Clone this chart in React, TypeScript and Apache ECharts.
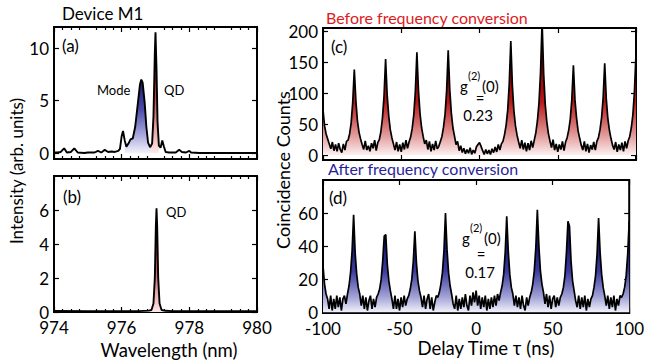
import React, { useEffect, useRef } from "react";
import * as echarts from "echarts";

// ---------- Data ----------
// Panel (a): spectrum, device M1 (wavelength nm, intensity arb. units)
const wavelengthA = [
  974.0, 974.1, 974.2, 974.3, 974.38, 974.5, 974.6, 974.7, 974.9, 975.0,
  975.2, 975.3, 975.4, 975.5, 975.6, 975.7, 975.8, 975.9, 975.95, 976.0,
  976.04, 976.09, 976.14, 976.2, 976.26, 976.33, 976.4, 976.47, 976.54, 976.58,
  976.62, 976.68, 976.73, 976.78, 976.84, 976.9, 976.94, 976.98, 977.0, 977.03,
  977.06, 977.1, 977.15, 977.2, 977.25, 977.3, 977.4, 977.6, 977.7, 977.78,
  977.9, 978.0, 978.05, 978.3, 978.6, 979.0, 979.5, 980.0,
];
const intensityA = [
  0.05, 0.05, 0.1, 0.45, 0.05, 0.1, 0.45, 0.05, 0.0, 0.05,
  0.05, 0.2, 0.05, 0.3, 0.1, 0.15, 0.1, 0.2, 0.4, 1.6,
  2.1, 1.2, 0.6, 0.9, 1.3, 1.4, 2.5, 4.5, 6.5, 7.0,
  6.7, 4.8, 2.5, 1.0, 0.55, 0.9, 3.5, 9.5, 11.5, 8.0,
  3.0, 0.7, 0.5, 1.2, 0.6, 0.1, 0.05, 0.05, 0.3, 0.1,
  0.05, 0.2, 0.05, 0.0, 0.0, 0.0, 0.0, 0.0,
];
// Panel (b)
const wavelengthB = [
  974.0, 975.0, 976.0, 976.5, 976.8, 976.88, 976.94, 976.98, 977.01, 977.03,
  977.05, 977.08, 977.12, 977.18, 977.3, 977.5, 978.0, 979.0, 980.0,
];
const intensityB = [
  0.06, 0.05, 0.05, 0.05, 0.08, 0.12, 0.5, 2.0, 5.0, 6.1,
  5.0, 2.0, 0.5, 0.12, 0.07, 0.05, 0.05, 0.04, 0.04,
];
// Panels (c), (d): coincidence histogram, 1 ns bins from -100 ns to 100 ns
const delayStart = -100;
const delayStep = 1;
const countsBefore = [
  73, 47, 34, 26, 18, 10, 21, 7, 17, 6,
  19, 9, 4, 18, 8, 22, 24, 34, 52, 85,
  138, 88, 55, 37, 26, 17, 9, 23, 8, 15,
  6, 19, 11, 24, 7, 20, 25, 38, 60, 95,
  155, 97, 63, 41, 28, 18, 8, 21, 6, 17,
  5, 20, 9, 24, 11, 21, 29, 43, 65, 102,
  166, 104, 67, 44, 30, 18, 24, 9, 22, 6,
  18, 8, 23, 10, 14, 22, 30, 45, 66, 104,
  169, 106, 68, 44, 31, 17, 22, 7, 15, 4,
  11, 2, 9, 3, 12, 1, 8, 3, 13, 17,
  20, 14, 7, 1, 9, 2, 8, 1, 10, 4,
  13, 5, 17, 8, 18, 22, 33, 48, 72, 114,
  184, 112, 71, 47, 32, 21, 11, 24, 9, 20,
  6, 19, 8, 23, 12, 24, 36, 55, 84, 133,
  215, 131, 82, 54, 35, 23, 12, 25, 8, 18,
  5, 17, 9, 22, 7, 21, 28, 40, 58, 90,
  145, 89, 60, 39, 27, 16, 8, 22, 6, 18,
  4, 16, 9, 21, 8, 22, 28, 41, 60, 92,
  148, 91, 59, 40, 27, 16, 9, 21, 5, 17,
  8, 20, 6, 22, 11, 23, 30, 44, 65, 102,
  163,
];
const countsAfter = [
  28, 17, 11, 8, 2, 10, 1, 8, 2, 10,
  3, 9, 1, 8, 10, 5, 11, 16, 24, 37,
  59, 36, 23, 15, 11, 4, 10, 2, 9, 1,
  7, 10, 2, 8, 3, 9, 11, 14, 20, 31,
  46, 47, 29, 19, 13, 8, 2, 10, 2, 8,
  1, 9, 3, 10, 4, 8, 10, 14, 20, 31,
  49, 30, 19, 13, 9, 3, 10, 2, 8, 11,
  2, 9, 1, 6, 10, 9, 12, 17, 24, 37,
  60, 38, 24, 16, 11, 5, 2, 10, 1, 8,
  2, 9, 3, 11, 4, 1, 10, 4, 12, 6,
  13, 4, 10, 2, 9, 3, 10, 1, 8, 2,
  9, 3, 10, 4, 11, 7, 12, 16, 23, 36,
  58, 37, 23, 15, 11, 4, 10, 3, 9, 2,
  10, 4, 1, 9, 4, 9, 12, 17, 25, 39,
  62, 40, 25, 17, 12, 5, 11, 3, 10, 2,
  8, 10, 3, 9, 4, 9, 11, 15, 22, 36,
  55, 52, 31, 19, 13, 7, 3, 10, 2, 9,
  3, 10, 1, 8, 3, 8, 10, 15, 22, 35,
  57, 36, 23, 15, 10, 4, 10, 2, 9, 3,
  10, 1, 8, 4, 10, 9, 11, 15, 22, 35,
  55,
];
const modeRange = [976.09, 976.86];
const qdRangeA = [976.84, 977.12];

// Tick values
const wavelengthTicks = [974, 976, 978, 980];
const ticksA = [0, 5, 10];
const ticksB = [0, 2, 4, 6];
const ticksC = [0, 50, 100, 150, 200];
const ticksD = [0, 20, 40, 60];
const delayTicks = [-100, -50, 0, 50, 100];

const g2Before = "0.23";
const g2After = "0.17";

// ---------- Helpers ----------
const FONT = "Lato";

function pairs(xs: number[], ys: number[]) {
  return xs.map((x, i) => [x, ys[i]]);
}
function histPairs(ys: number[]) {
  return ys.map((y, i) => [delayStart + i * delayStep, y]);
}

function grad(stops: [number, string][]) {
  return new echarts.graphic.LinearGradient(
    0, 0, 0, 1,
    stops.map(([offset, color]) => ({ offset, color }))
  );
}
const redGrad = () =>
  grad([[0, "#3c0000"], [0.35, "#8a0000"], [0.6, "#b81818"], [0.85, "#e29a9a"], [1, "#fcf0f0"]]);
const blueGrad = () =>
  grad([[0, "#06063e"], [0.35, "#1a1a74"], [0.6, "#3c3c9e"], [0.85, "#a2a2d6"], [1, "#f1f1fb"]]);

const tickStyle = { color: "#000", width: 1.2 };

function xPair(gridIndex: number, min: number, max: number, ticks: number[], showLabels: boolean, minor: boolean) {
  const base = {
    type: "value",
    gridIndex,
    min,
    max,
    axisLine: { show: false, onZero: false },
    splitLine: { show: false },
    axisTick: { inside: true, length: 5, lineStyle: tickStyle, customValues: ticks },
    minorTick: { show: minor, splitNumber: 4, length: 3, lineStyle: tickStyle },
  };
  return [
    {
      ...base,
      position: "bottom",
      axisLabel: {
        show: showLabels,
        customValues: ticks,
        color: "#000",
        fontSize: 17,
        fontFamily: FONT,
        margin: 7,
      },
    },
    { ...base, position: "top", axisLabel: { show: false } },
  ];
}

function yPair(gridIndex: number, min: number, max: number, ticks: number[]) {
  const base = {
    type: "value",
    gridIndex,
    min,
    max,
    axisLine: { show: false, onZero: false },
    splitLine: { show: false },
    axisTick: { inside: true, length: 5, lineStyle: tickStyle, customValues: ticks },
  };
  return [
    {
      ...base,
      position: "left",
      axisLabel: {
        customValues: ticks,
        color: "#000",
        fontSize: 17,
        fontFamily: FONT,
        margin: 5,
      },
    },
    { ...base, position: "right", axisLabel: { show: false } },
  ];
}

function txt(text: string, x: number, y: number, size: number, opts: any = {}) {
  return {
    type: "text",
    x,
    y,
    rotation: opts.rotation || 0,
    z: 100,
    style: {
      text,
      fontSize: size,
      fontFamily: FONT,
      fill: opts.color || "#000",
      align: opts.align || "left",
      verticalAlign: "middle",
    },
  };
}

export default function App() {
  const ref = useRef<HTMLDivElement>(null);

  useEffect(() => {
    if (!ref.current) return;
    const chart = echarts.init(ref.current, null, { renderer: "svg" });

    const specA = pairs(wavelengthA, intensityA);
    const specB = pairs(wavelengthB, intensityB);
    const modeFill = specA.filter((p) => p[0] >= modeRange[0] && p[0] <= modeRange[1]);
    const qdFillA = specA.filter((p) => p[0] >= qdRangeA[0] && p[0] <= qdRangeA[1]);

    const gridBase = { show: true, borderColor: "#000", borderWidth: 2, backgroundColor: "transparent" };

    const lineBase = {
      type: "line",
      symbol: "none",
      showSymbol: false,
      lineStyle: { color: "#000", width: 1.9 },
      z: 5,
    };

    const redPeak = () =>
      grad([[0, "#4a0000"], [0.4, "#a01818"], [0.75, "#e09090"], [1, "#fdeaea"]]);

    const option: any = {
      animation: false,
      grid: [
        { ...gridBase, left: 54, top: 27, width: 203, height: 132 },
        { ...gridBase, left: 54, top: 176, width: 203, height: 136 },
        { ...gridBase, left: 323, top: 28, width: 313, height: 132 },
        { ...gridBase, left: 323, top: 180, width: 312, height: 133 },
      ],
      xAxis: [
        ...xPair(0, 974, 980, wavelengthTicks, false, true),
        ...xPair(1, 974, 980, wavelengthTicks, true, true),
        ...xPair(2, -100, 100, delayTicks, false, false),
        ...xPair(3, -100, 100, delayTicks, true, false),
      ],
      yAxis: [
        ...yPair(0, -0.57, 12, ticksA),
        ...yPair(1, 0, 8, ticksB),
        ...yPair(2, -8, 205, ticksC),
        ...yPair(3, -0.5, 80, ticksD),
      ],
      series: [
        {
          ...lineBase,
          xAxisIndex: 0,
          yAxisIndex: 0,
          data: modeFill,
          lineStyle: { width: 0, color: "transparent" },
          areaStyle: {
            opacity: 1,
            color: grad([[0, "#1a1a70"], [0.4, "#4a4aa6"], [0.75, "#a8a8dc"], [1, "#f2f2fb"]]),
          },
          z: 2,
        },
        {
          ...lineBase,
          xAxisIndex: 0,
          yAxisIndex: 0,
          data: qdFillA,
          lineStyle: { width: 0, color: "transparent" },
          areaStyle: { opacity: 1, color: redPeak() },
          z: 3,
        },
        { ...lineBase, xAxisIndex: 0, yAxisIndex: 0, data: specA },
        {
          ...lineBase,
          xAxisIndex: 2,
          yAxisIndex: 2,
          data: specB,
          areaStyle: { opacity: 1, color: redPeak() },
        },
        {
          ...lineBase,
          xAxisIndex: 4,
          yAxisIndex: 4,
          data: histPairs(countsBefore),
          lineStyle: { color: "#000", width: 1.7 },
          areaStyle: { opacity: 1, color: redGrad() },
        },
        {
          ...lineBase,
          xAxisIndex: 6,
          yAxisIndex: 6,
          data: histPairs(countsAfter),
          lineStyle: { color: "#000", width: 1.7 },
          areaStyle: { opacity: 1, color: blueGrad() },
        },
      ],
      graphic: [
        txt("Device M1", 62, 13, 17),
        txt("(a)", 62, 45, 17),
        txt("(b)", 63, 196, 17),
        txt("(c)", 331, 46, 17),
        txt("(d)", 329, 197, 17),
        txt("Mode", 97, 90, 13),
        txt("QD", 164, 90, 13),
        txt("QD", 166, 212, 13),
        txt("Before frequency conversion", 326, 17, 16, { color: "#dd1c1c" }),
        txt("After frequency conversion", 328, 168, 16, { color: "#2b1f99" }),
        txt("Wavelength (nm)", 169, 350, 18.5, { align: "center" }),
        txt("Delay Time \u03c4 (ns)", 486, 348, 18.5, { align: "center" }),
        txt("Intensity (arb. units)", 16, 171, 17, { align: "center", rotation: Math.PI / 2 }),
        txt("Coincidence Counts", 283, 170, 18, { align: "center", rotation: Math.PI / 2 }),
        // g2 annotations (c)
        txt("g", 460, 86, 15),
        txt("(2)", 468, 75, 11),
        txt("(0)", 482, 86, 15),
        txt("=", 480, 98, 15, { align: "center" }),
        txt(g2Before, 478, 115, 15, { align: "center" }),
        // g2 annotations (d)
        txt("g", 462, 238, 15),
        txt("(2)", 470, 227, 11),
        txt("(0)", 484, 238, 15),
        txt("=", 481, 254, 15, { align: "center" }),
        txt(g2After, 480, 272, 15, { align: "center" }),
      ],
    };

    chart.setOption(option);
    return () => chart.dispose();
  }, []);

  return (
    <div
      ref={ref}
      style={{ position: "fixed", left: 0, top: 0, width: 647, height: 363, background: "#fff" }}
    />
  );
}
